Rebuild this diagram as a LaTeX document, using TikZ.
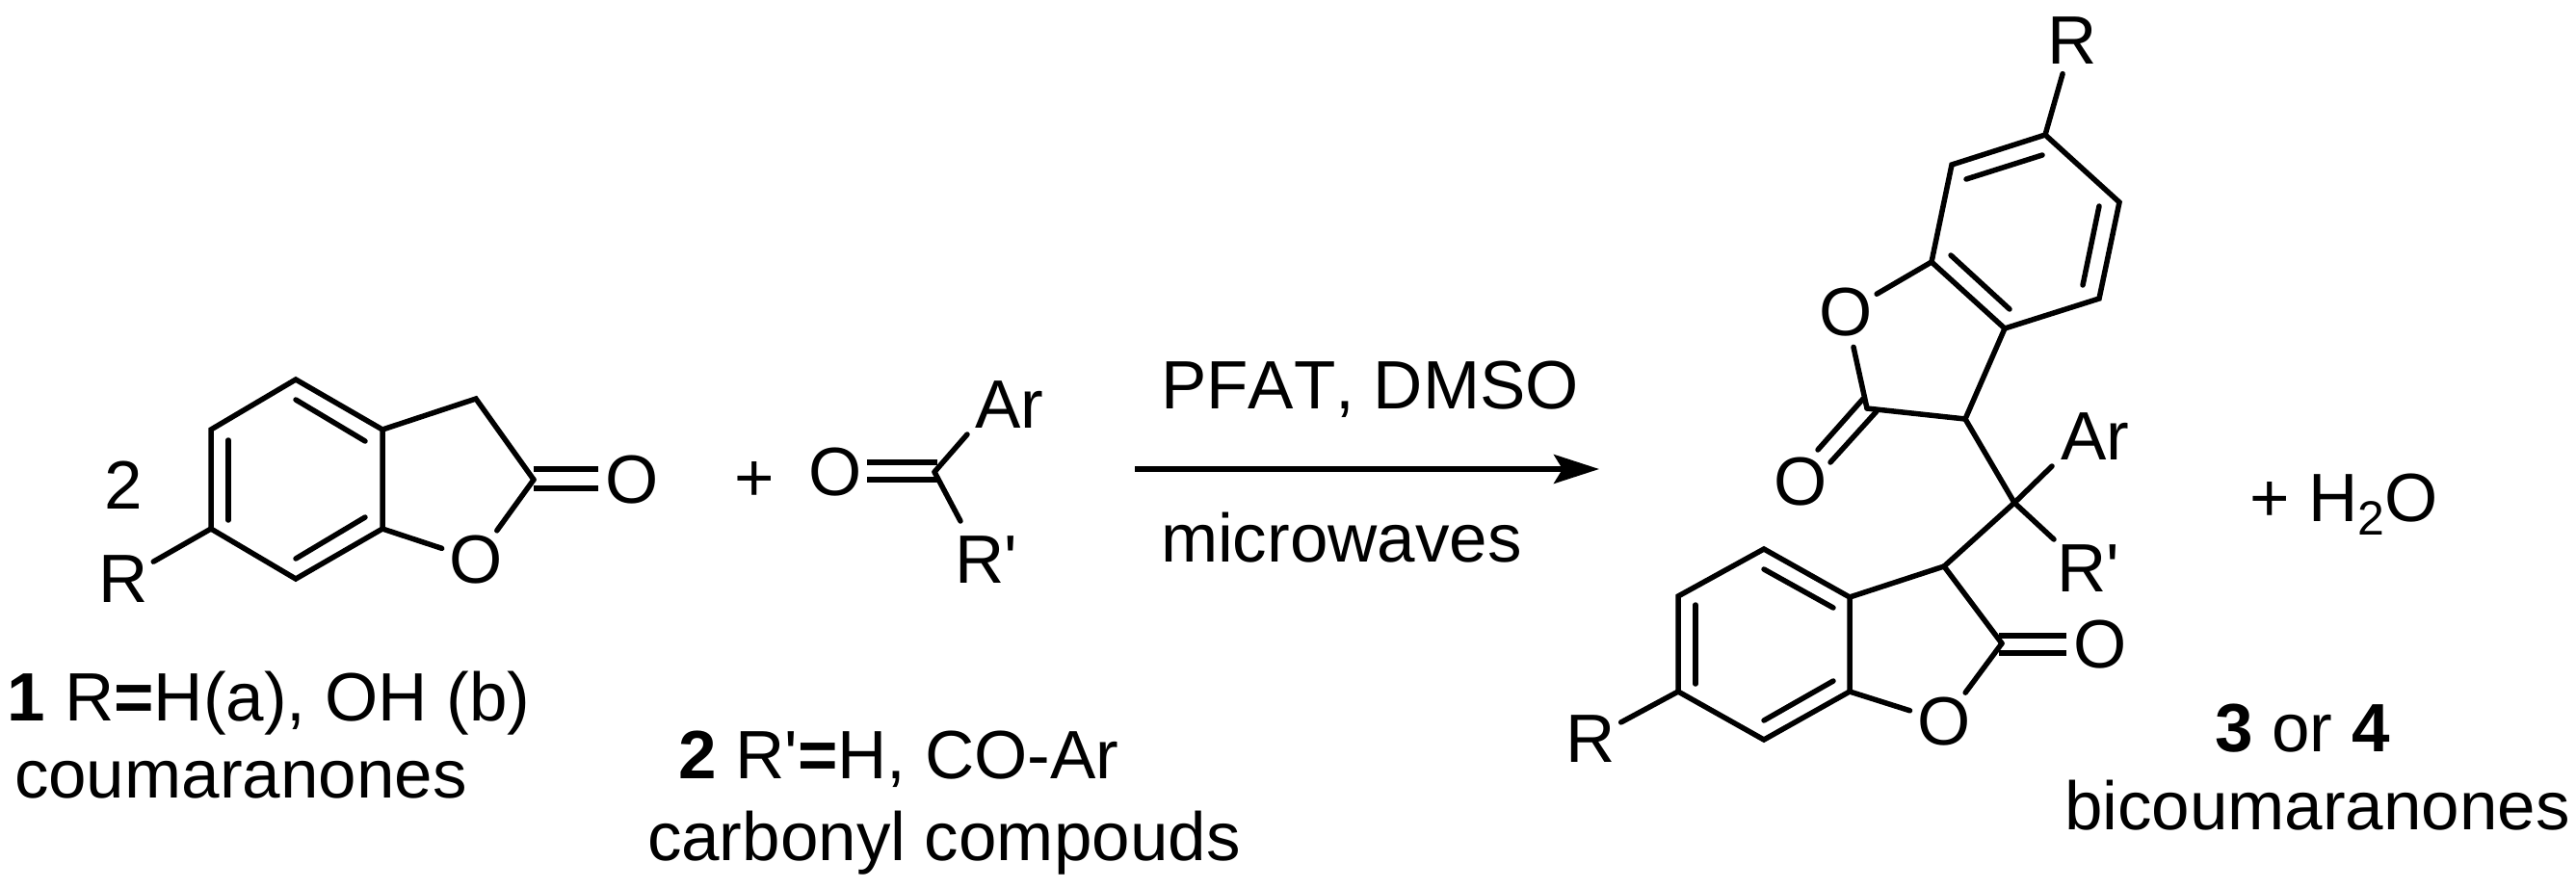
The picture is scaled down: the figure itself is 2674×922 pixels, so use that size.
\documentclass[tikz,border=0pt]{standalone}
\usepackage{fontspec}
\newfontfamily\lib[Kerning=Off]{Liberation Sans}
\usetikzlibrary{arrows.meta}
\tikzset{
  bond/.style={line width=5.5pt,line cap=round,line join=miter,black},
  txt/.style={anchor=base west,inner sep=0pt,outer sep=0pt,font=\lib\fontsize{71}{84}\selectfont,text=black},
  atom/.style={circle,inner sep=0pt,outer sep=0pt,minimum size=72pt,font=\lib\fontsize{71}{84}\selectfont,text=black},
  rxn/.style={line width=5.5pt,-{Stealth[length=47pt,width=30pt,inset=9pt]},black}
}
\begin{document}
\begin{tikzpicture}[x=1pt,y=-1pt]
\useasboundingbox (0,0) rectangle (2674,922);

% ---------- compound 1
\coordinate (a1) at (307,394);
\coordinate (a2) at (219,446);
\coordinate (a3) at (219,549);
\coordinate (a4) at (307,601);
\coordinate (a5) at (397,549);
\coordinate (a6) at (397,446);
\coordinate (a7) at (494,414);
\coordinate (a8) at (554,498);
\node[atom] (aO) at (494,581) {O};
\node[atom] (aOc) at (656,498) {O};
\node[atom] (aR) at (128,601) {R};
\node[txt,anchor=center] (atwo) at (128,504) {2};
\coordinate (ad1a) at (554,487);
\coordinate (ad1b) at (621,487);
\coordinate (ad2a) at (554,507);
\coordinate (ad2b) at (621,507);
\coordinate (ai1a) at (237,457);
\coordinate (ai1b) at (237,540);
\coordinate (ai2a) at (307,415);
\coordinate (ai2b) at (379,458);
\coordinate (ai3a) at (307,580);
\coordinate (ai3b) at (379,537);
\draw[bond] (a1) -- (a2) -- (a3) -- (a4) -- (a5) -- (a6) -- cycle;
\draw[bond] (a6) -- (a7) -- (a8);
\draw[bond] (a5) -- (aO);
\draw[bond] (a8) -- (aO);
\draw[bond] (a3) -- (aR);
\draw[bond,line cap=butt] (ad1a) -- (ad1b);
\draw[bond,line cap=butt] (ad2a) -- (ad2b);
\draw[bond] (ai1a) -- (ai1b);
\draw[bond] (ai2a) -- (ai2b);
\draw[bond] (ai3a) -- (ai3b);
\node[txt] (alab) at (8,748) {\textbf{1} R\textbf{=}H(a), OH (b)};
\node[txt] (aname) at (15,828) {coumaranones};

% ---------- compound 2
\node[txt,anchor=center] (plus1) at (783,500) {+};
\node[atom] (bO) at (867,490) {O};
\coordinate (bC) at (970,490);
\coordinate (bd1a) at (900,480);
\coordinate (bd1b) at (973,480);
\coordinate (bd2a) at (900,498);
\coordinate (bd2b) at (973,498);
\node[txt] (bAr) at (1012,444) {Ar};
\node[txt] (bRp) at (991,605) {R'};
\coordinate (bArE) at (1004,451);
\coordinate (bRpE) at (997,541);
\draw[bond,line cap=butt] (bd1a) -- (bd1b);
\draw[bond,line cap=butt] (bd2a) -- (bd2b);
\draw[bond] (bC) -- (bArE);
\draw[bond] (bC) -- (bRpE);
\node[txt] (blab) at (704,808) {\textbf{2} R'\textbf{=}H, CO-Ar};
\node[txt] (bname) at (672,893) {carbonyl compouds};

% ---------- reaction arrow
\coordinate (arS) at (1178,487);
\coordinate (arE) at (1660,487);
\draw[rxn] (arS) -- (arE);
\node[txt] (cond1) at (1205,424) {PFAT, DMSO};
\node[txt] (cond2) at (1205,583) {microwaves};

% ---------- product, upper part
\coordinate (c1) at (2123,140);
\coordinate (c2) at (2026,171);
\coordinate (c3) at (2005,272);
\coordinate (c4) at (2081,341);
\coordinate (c5) at (2179,310);
\coordinate (c6) at (2200,210);
\coordinate (c7) at (2040,435);
\coordinate (c8) at (1938,424);
\node[atom] (cO) at (1916,324) {O};
\node[atom] (cOc) at (1869,500) {O};
\node[atom] (cR) at (2151,42) {R};
\coordinate (ci1a) at (2120,161);
\coordinate (ci1b) at (2041,186);
\coordinate (ci2a) at (2179,214);
\coordinate (ci2b) at (2162,296);
\coordinate (ci3a) at (2025,265);
\coordinate (ci3b) at (2086,321);
\coordinate (cd1a) at (1934,414);
\coordinate (cd1b) at (1887,467);
\coordinate (cd2a) at (1948,427);
\coordinate (cd2b) at (1900,480);
\draw[bond] (c1) -- (c2) -- (c3) -- (c4) -- (c5) -- (c6) -- cycle;
\draw[bond] (c4) -- (c7) -- (c8);
\draw[bond] (c3) -- (cO);
\draw[bond] (c8) -- (cO);
\draw[bond] (c1) -- (cR);
\draw[bond] (cd1a) -- (cd1b);
\draw[bond] (cd2a) -- (cd2b);
\draw[bond] (ci1a) -- (ci1b);
\draw[bond] (ci2a) -- (ci2b);
\draw[bond] (ci3a) -- (ci3b);

% ---------- quaternary carbon
\coordinate (q) at (2091,522);
\node[txt] (qAr) at (2139,477) {Ar};
\node[txt] (qRp) at (2135,614) {R'};
\coordinate (qArE) at (2130,484);
\coordinate (qRpE) at (2132,560);
\draw[bond] (c7) -- (q);
\draw[bond] (q) -- (qArE);
\draw[bond] (q) -- (qRpE);

% ---------- product, lower part
\coordinate (d1) at (1831,570);
\coordinate (d2) at (1742,619);
\coordinate (d3) at (1742,718);
\coordinate (d4) at (1831,768);
\coordinate (d5) at (1920,718);
\coordinate (d6) at (1920,620);
\coordinate (d7) at (2018,588);
\coordinate (d8) at (2078,668);
\node[atom] (dO) at (2018,749) {O};
\node[atom] (dOc) at (2180,669) {O};
\node[atom] (dR) at (1651,767) {R};
\coordinate (dd1a) at (2075,660);
\coordinate (dd1b) at (2145,660);
\coordinate (dd2a) at (2075,678);
\coordinate (dd2b) at (2145,678);
\coordinate (di1a) at (1760,628);
\coordinate (di1b) at (1760,710);
\coordinate (di2a) at (1831,591);
\coordinate (di2b) at (1903,631);
\coordinate (di3a) at (1831,748);
\coordinate (di3b) at (1903,707);
\draw[bond] (d1) -- (d2) -- (d3) -- (d4) -- (d5) -- (d6) -- cycle;
\draw[bond] (d6) -- (d7) -- (d8);
\draw[bond] (q) -- (d7);
\draw[bond] (d5) -- (dO);
\draw[bond] (d8) -- (dO);
\draw[bond] (d3) -- (dR);
\draw[bond,line cap=butt] (dd1a) -- (dd1b);
\draw[bond,line cap=butt] (dd2a) -- (dd2b);
\draw[bond] (di1a) -- (di1b);
\draw[bond] (di2a) -- (di2b);
\draw[bond] (di3a) -- (di3b);

% ---------- remaining labels
\node[txt] (water) at (2335,541) {+ H\raisebox{-14pt}{\lib\fontsize{50}{50}\selectfont 2}O};
\node[txt] (clab) at (2299,780) {\textbf{3} or \textbf{4}};
\node[txt] (cname) at (2143,861) {bicoumaranones};
\end{tikzpicture}
\end{document}
